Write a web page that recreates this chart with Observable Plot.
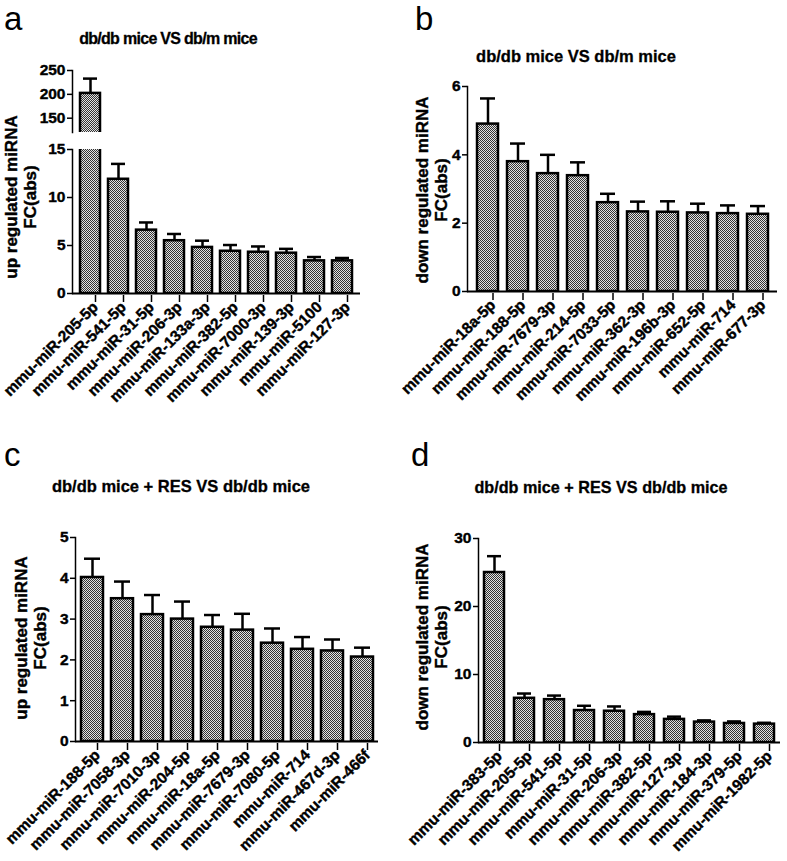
<!DOCTYPE html>
<html>
<head>
<meta charset="utf-8">
<script src="https://cdn.jsdelivr.net/npm/d3@7"></script>
<script src="https://cdn.jsdelivr.net/npm/@observablehq/plot@0.6"></script>
<style>
  body { margin: 0; background: white; }
  #wrap { position: relative; width: 787px; height: 861px; overflow: hidden; background: white;
          font-family: Arial, "Liberation Sans", sans-serif; color: black; }
  .abs { position: absolute; }
  .letter { position: absolute; font-size: 33px; line-height: 38px; font-weight: 400; }
  .title { position: absolute; font-weight: 700; white-space: nowrap; transform: translateX(-50%); line-height: 1;
           -webkit-text-stroke: 0.3px black; }
  .ytitle { position: absolute; font-weight: 700; font-size: 17px; line-height: 19px; text-align: center;
            white-space: nowrap; transform: translate(-50%, -50%) rotate(-90deg); -webkit-text-stroke: 0.4px black; }
</style>
</head>
<body>
<svg width="0" height="0" style="position:absolute">
  <defs>
    <pattern id="chk" width="2" height="2" patternUnits="userSpaceOnUse">
      <rect width="2" height="2" fill="#e2e2e2"></rect>
      <rect width="1" height="1" fill="#333333"></rect>
      <rect x="1" y="1" width="1" height="1" fill="#333333"></rect>
    </pattern>
  </defs>
</svg>
<div id="wrap"></div>
<script>
// ---------- data ----------
const namesA = ["mmu-miR-205-5p","mmu-miR-541-5p","mmu-miR-31-5p","mmu-miR-206-3p","mmu-miR-133a-3p","mmu-miR-382-5p","mmu-miR-7000-3p","mmu-miR-139-3p","mmu-miR-5100","mmu-miR-127-3p"];
const valuesA = [202, 11.9, 6.6, 5.5, 4.8, 4.4, 4.3, 4.2, 3.4, 3.4];
const errA = [31, 1.6, 0.8, 0.7, 0.7, 0.65, 0.6, 0.45, 0.4, 0.3];

const namesB = ["mmu-miR-18a-5p","mmu-miR-188-5p","mmu-miR-7679-3p","mmu-miR-214-5p","mmu-miR-7033-5p","mmu-miR-362-3p","mmu-miR-196b-3p","mmu-miR-652-5p","mmu-miR-714","mmu-miR-677-3p"];
const valuesB = [4.9, 3.8, 3.45, 3.39, 2.6, 2.33, 2.32, 2.3, 2.28, 2.26];
const errB = [0.75, 0.53, 0.55, 0.39, 0.26, 0.3, 0.32, 0.27, 0.24, 0.24];

const namesC = ["mmu-miR-188-5p","mmu-miR-7058-3p","mmu-miR-7010-3p","mmu-miR-204-5p","mmu-miR-18a-5p","mmu-miR-7679-3p","mmu-miR-7080-5p","mmu-miR-714","mmu-miR-467d-3p","mmu-miR-466f"];
const valuesC = [4.02, 3.5, 3.11, 3.0, 2.8, 2.73, 2.41, 2.26, 2.22, 2.07];
const errC = [0.46, 0.42, 0.48, 0.43, 0.3, 0.4, 0.36, 0.3, 0.28, 0.23];

const namesD = ["mmu-miR-383-5p","mmu-miR-205-5p","mmu-miR-541-5p","mmu-miR-31-5p","mmu-miR-206-3p","mmu-miR-382-5p","mmu-miR-127-3p","mmu-miR-184-3p","mmu-miR-379-5p","mmu-miR-1982-5p"];
const valuesD = [25.0, 6.5, 6.3, 4.7, 4.6, 4.1, 3.4, 3.0, 2.8, 2.7];
const errD = [2.4, 0.7, 0.6, 0.7, 0.7, 0.4, 0.4, 0.25, 0.3, 0.2];

const ticksAtop = [150, 200, 250];
const ticksAbottom = [0, 5, 10, 15];
const ticksB = [0, 2, 4, 6];
const ticksC = [0, 1, 2, 3, 4, 5];
const ticksD = [0, 10, 20, 30];

const titleAB = "db/db mice VS db/m mice";
const titleCD = "db/db mice + RES VS db/db mice";

// ---------- helpers ----------
const wrap = document.getElementById("wrap");
const FONT = "Arial, 'Liberation Sans', sans-serif";

function rows(names, values, errs) {
  return names.map((n, i) => ({name: n, value: values[i], top: values[i] + errs[i]}));
}

function panel(o) {
  const data = rows(o.names, o.values, o.errs);
  const marks = [
    Plot.barY(data, {x: "name", y: "value", fill: "url(#chk)", stroke: "black", strokeWidth: 2.5, clip: true}),
    Plot.ruleX(data, {x: "name", y1: "value", y2: "top", stroke: "black", strokeWidth: 2.5, clip: true}),
    Plot.tickY(data, {x: "name", y: "top", stroke: "black", strokeWidth: 2.5, insetLeft: 3, insetRight: 3, clip: true}),
    Plot.axisY({ticks: o.ticks, tickFormat: (d) => String(d), tickSize: 5, tickPadding: 2, label: null,
                strokeWidth: 1.5, fontSize: 15.5, fontWeight: "bold", textStroke: "black", textStrokeWidth: 0.4}),
    Plot.frame({anchor: "left", strokeWidth: 1.5})
  ];
  if (o.xAxis) {
    marks.push(Plot.ruleY([o.yDomain[0]], {stroke: "black", strokeWidth: 2}));
    marks.push(Plot.axisX({tickSize: 7, tickRotate: -45, tickPadding: 2, label: null, strokeWidth: 1.5,
                           fontSize: 15.5, fontWeight: "bold", textStroke: "black", textStrokeWidth: 0.4, dx: 5, dy: 2}));
  }
  const svg = Plot.plot({
    width: o.width, height: o.height,
    marginLeft: o.ml, marginRight: o.mr, marginTop: o.mt, marginBottom: o.mb,
    style: {fontFamily: FONT, fontSize: "15px", fontWeight: "bold", color: "black", background: "transparent", overflow: "visible"},
    x: {domain: o.names, paddingInner: o.pi, paddingOuter: o.po, axis: null},
    y: {domain: o.yDomain, axis: null},
    marks
  });
  const d = document.createElement("div");
  d.className = "abs";
  d.style.left = o.left + "px";
  d.style.top = o.top + "px";
  d.appendChild(svg);
  wrap.appendChild(d);
}

function text(cls, str, left, top, extra) {
  const d = document.createElement("div");
  d.className = cls;
  d.innerHTML = str;
  d.style.left = left + "px";
  d.style.top = top + "px";
  Object.assign(d.style, extra || {});
  wrap.appendChild(d);
}

// ---------- panel a (broken axis) ----------
panel({names: namesA, values: valuesA, errs: errA, yDomain: [120, 250], ticks: ticksAtop,
  left: 0, top: 55, width: 390, height: 85, ml: 72, mr: 30, mt: 15, mb: 8, pi: 0.3, po: 0.19, xAxis: false});
panel({names: namesA, values: valuesA, errs: errA, yDomain: [0, 15], ticks: ticksAbottom,
  left: 0, top: 140, width: 390, height: 280, ml: 72, mr: 30, mt: 9, mb: 127, pi: 0.3, po: 0.19, xAxis: true});

// ---------- panel b ----------
panel({names: namesB, values: valuesB, errs: errB, yDomain: [0, 6], ticks: ticksB,
  left: 390, top: 0, width: 397, height: 420, ml: 77, mr: 10, mt: 86, mb: 129, pi: 0.3, po: 0.27, xAxis: true});

// ---------- panel c ----------
panel({names: namesC, values: valuesC, errs: errC, yDomain: [0, 5], ticks: ticksC,
  left: 0, top: 420, width: 390, height: 441, ml: 75, mr: 12, mt: 117, mb: 120, pi: 0.28, po: 0.1, xAxis: true});

// ---------- panel d ----------
panel({names: namesD, values: valuesD, errs: errD, yDomain: [0, 30], ticks: ticksD,
  left: 390, top: 420, width: 397, height: 441, ml: 88, mr: 7, mt: 118, mb: 119, pi: 0.34, po: 0.135, xAxis: true});

// ---------- letters ----------
text("letter", "a", 4, 0);
text("letter", "b", 415, 0);
text("letter", "c", 4, 436);
text("letter", "d", 411, 436);

// ---------- titles ----------
text("title", titleAB, 168, 45 - 0.8465 * 16, {fontSize: "16px", letterSpacing: "-0.7px"});
text("title", titleAB, 576, 62 - 0.8465 * 16.5, {fontSize: "16.5px"});
text("title", titleCD, 181, 492 - 0.8465 * 16.5, {fontSize: "16.5px"});
text("title", titleCD, 601, 493 - 0.8465 * 16.2, {fontSize: "16.2px"});

// ---------- y axis titles ----------
text("ytitle", "up regulated miRNA<br>FC(abs)", 21, 197);
text("ytitle", "down regulated miRNA<br>FC(abs)", 432, 190);
text("ytitle", "up regulated miRNA<br>FC(abs)", 31, 638);
text("ytitle", "down regulated miRNA<br>FC(abs)", 432, 637);
</script>
</body>
</html>
